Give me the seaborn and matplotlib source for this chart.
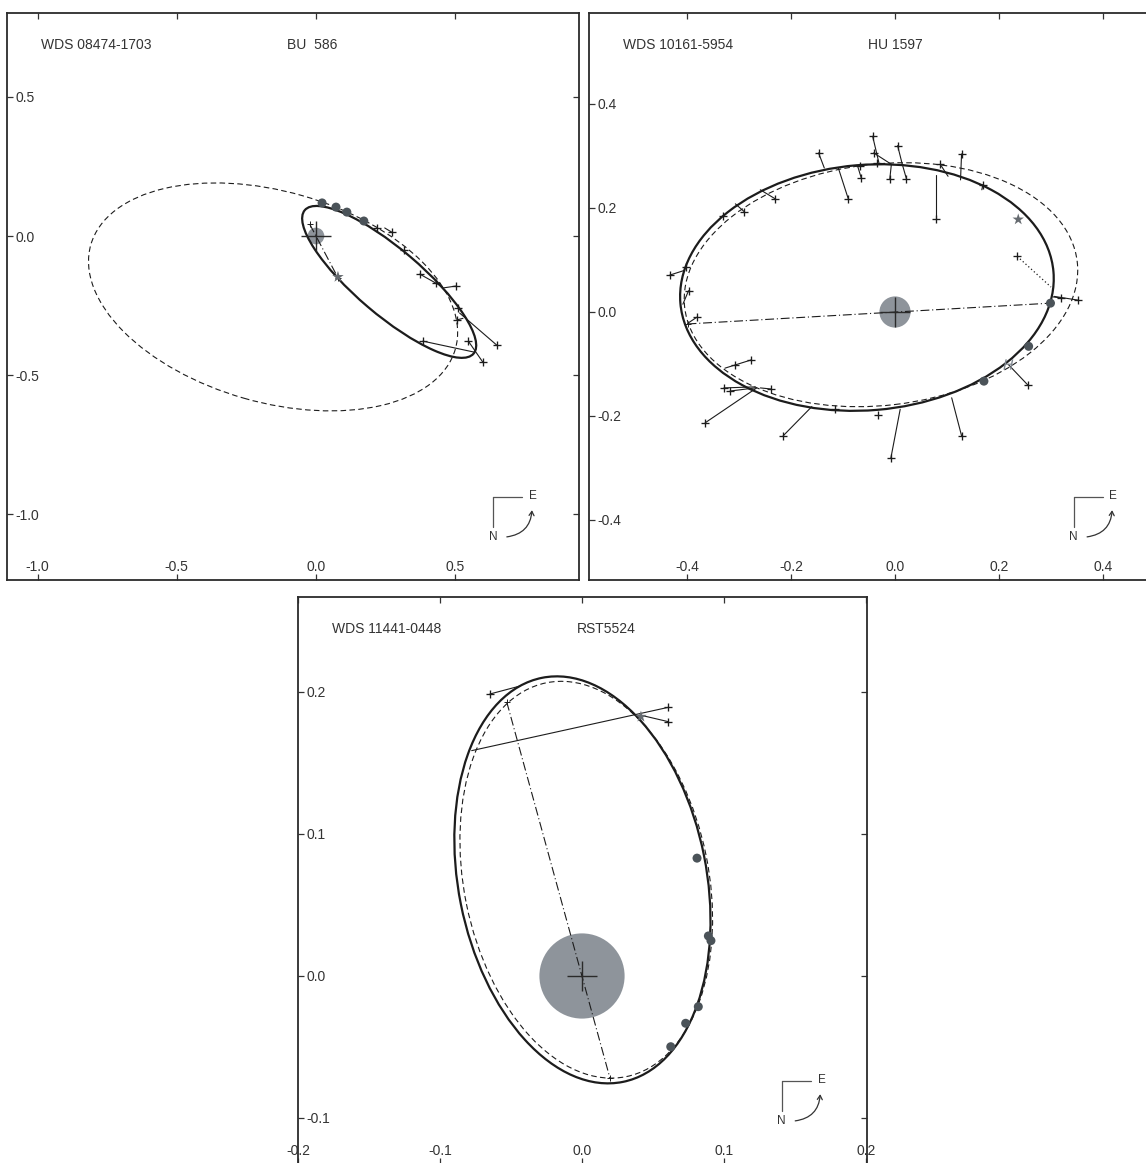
import matplotlib
matplotlib.use("Agg")
import matplotlib.pyplot as plt
from matplotlib.patches import Ellipse, Circle, FancyArrowPatch
import seaborn as sns

# ---------------------------------------------------------------------------
# WDS 08474-1703  (BU 586)
# ---------------------------------------------------------------------------
BU586_OBS_X = [0.219, 0.272, 0.315, 0.373, 0.430, 0.502, 0.509, 0.505, 0.545, 0.649, 0.599, 0.384]
BU586_OBS_Y = [0.029, 0.014, -0.050, -0.137, -0.169, -0.180, -0.259, -0.302, -0.378, -0.392, -0.453, -0.378]
BU586_FIT_X = [0.219, 0.247, 0.315, 0.455, 0.430, 0.455, 0.509, 0.528, 0.545, 0.516, 0.550, 0.566]
BU586_FIT_Y = [0.029, 0.029, -0.050, -0.183, -0.169, -0.187, -0.259, -0.296, -0.378, -0.277, -0.382, -0.417]
BU586_SPECKLE_X = [0.022, 0.072, 0.111, 0.172]
BU586_SPECKLE_Y = [0.119, 0.104, 0.086, 0.054]
BU586_STAR_X = [0.079]
BU586_STAR_Y = [-0.147]
# apparent orbits: centre x, centre y, semi-major, semi-minor, tilt (deg)
BU586_NEW_ORBIT = [0.263, -0.165, 0.398, 0.118, -40.4]
BU586_OLD_ORBIT = [-0.154, -0.219, 0.681, 0.379, -16.0]
BU586_NODES_X = [-0.022, 0.079]
BU586_NODES_Y = [0.042, -0.150]

# ---------------------------------------------------------------------------
# WDS 10161-5954  (HU 1597)
# ---------------------------------------------------------------------------
HU1597_OBS_X = [-0.433, -0.402, -0.397, -0.381, -0.331, -0.290, -0.231, -0.147, -0.090, -0.067,
                -0.065, -0.043, -0.041, -0.034, -0.010, 0.005, 0.022, 0.078, 0.087, 0.128,
                0.169, 0.319, 0.351,
                -0.276, -0.307, -0.329, -0.317, -0.239, -0.365, -0.215, -0.115, -0.033, -0.008,
                0.128, 0.256]
HU1597_OBS_Y = [0.071, 0.087, 0.041, -0.010, 0.185, 0.193, 0.218, 0.306, 0.218, 0.281,
                0.258, 0.338, 0.306, 0.287, 0.256, 0.320, 0.256, 0.179, 0.284, 0.304,
                0.245, 0.027, 0.023,
                -0.092, -0.101, -0.146, -0.152, -0.148, -0.213, -0.238, -0.187, -0.199, -0.281,
                -0.238, -0.141]
HU1597_FIT_X = [-0.405, -0.402, -0.408, -0.399, -0.331, -0.307, -0.259, -0.136, -0.109, -0.067,
                -0.072, -0.031, -0.007, -0.034, -0.007, 0.014, 0.014, 0.078, 0.102, 0.126,
                0.167, 0.304, 0.306,
                -0.327, -0.307, -0.269, -0.269, -0.259, -0.266, -0.160, -0.115, -0.033, 0.010,
                0.109, 0.218]
HU1597_FIT_Y = [0.080, 0.087, 0.015, -0.022, 0.185, 0.208, 0.235, 0.277, 0.277, 0.281,
                0.281, 0.287, 0.284, 0.287, 0.284, 0.284, 0.284, 0.264, 0.261, 0.254,
                0.235, 0.029, 0.030,
                -0.108, -0.101, -0.144, -0.146, -0.146, -0.146, -0.182, -0.187, -0.199, -0.187,
                -0.165, -0.101]
HU1597_REJ_OBS_X = [0.235]
HU1597_REJ_OBS_Y = [0.107]
HU1597_REJ_FIT_X = [0.300]
HU1597_REJ_FIT_Y = [0.048]
HU1597_SPECKLE_X = [0.299, 0.257, 0.171]
HU1597_SPECKLE_Y = [0.017, -0.066, -0.133]
HU1597_STAR_X = [0.237]
HU1597_STAR_Y = [0.178]
HU1597_HIP_X = [0.218]
HU1597_HIP_Y = [-0.101]
HU1597_NEW_ORBIT = [-0.054, 0.047, 0.360, 0.236, 4.8]
HU1597_OLD_ORBIT = [-0.027, 0.0525, 0.380, 0.232, 6.7]
HU1597_NODES_X = [-0.399, 0.299]
HU1597_NODES_Y = [-0.023, 0.017]

# ---------------------------------------------------------------------------
# WDS 11441-0448  (RST5524)
# ---------------------------------------------------------------------------
RST5524_OBS_X = [-0.0648, 0.0608, 0.0608]
RST5524_OBS_Y = [0.1986, 0.1892, 0.1791]
RST5524_FIT_X = [-0.0437, -0.0777, 0.0408]
RST5524_FIT_Y = [0.2042, 0.1587, 0.1838]
RST5524_SPECKLE_X = [0.0810, 0.0890, 0.0908, 0.0819, 0.0730, 0.0625]
RST5524_SPECKLE_Y = [0.0830, 0.0282, 0.0249, -0.0216, -0.0333, -0.0498]
RST5524_STAR_X = [0.0415]
RST5524_STAR_Y = [0.1826]
RST5524_NEW_ORBIT = [0.0003, 0.0677, 0.1451, 0.0873, -78.7]
RST5524_OLD_ORBIT = [0.0030, 0.0678, 0.1415, 0.0861, -78.5]
RST5524_NODES_X = [-0.053, 0.0197]
RST5524_NODES_Y = [0.193, -0.072]

RESOLUTION_RADIUS = 0.03

PANELS = [
    dict(wds="WDS 08474-1703", name="BU  586",
         obs=(BU586_OBS_X, BU586_OBS_Y, BU586_FIT_X, BU586_FIT_Y),
         rej=None,
         speckle=(BU586_SPECKLE_X, BU586_SPECKLE_Y),
         star=(BU586_STAR_X, BU586_STAR_Y), hip=None,
         new=BU586_NEW_ORBIT, old=BU586_OLD_ORBIT,
         nodes=(BU586_NODES_X, BU586_NODES_Y),
         ticks=([-1.0, -0.5, 0.0, 0.5], [-1.0, -0.5, 0.0, 0.5])),
    dict(wds="WDS 10161-5954", name="HU 1597",
         obs=(HU1597_OBS_X, HU1597_OBS_Y, HU1597_FIT_X, HU1597_FIT_Y),
         rej=(HU1597_REJ_OBS_X, HU1597_REJ_OBS_Y, HU1597_REJ_FIT_X, HU1597_REJ_FIT_Y),
         speckle=(HU1597_SPECKLE_X, HU1597_SPECKLE_Y),
         star=(HU1597_STAR_X, HU1597_STAR_Y), hip=(HU1597_HIP_X, HU1597_HIP_Y),
         new=HU1597_NEW_ORBIT, old=HU1597_OLD_ORBIT,
         nodes=(HU1597_NODES_X, HU1597_NODES_Y),
         ticks=([-0.4, -0.2, 0.0, 0.2, 0.4], [-0.4, -0.2, 0.0, 0.2, 0.4])),
    dict(wds="WDS 11441-0448", name="RST5524",
         obs=(RST5524_OBS_X, RST5524_OBS_Y, RST5524_FIT_X, RST5524_FIT_Y),
         rej=None,
         speckle=(RST5524_SPECKLE_X, RST5524_SPECKLE_Y),
         star=(RST5524_STAR_X, RST5524_STAR_Y), hip=None,
         new=RST5524_NEW_ORBIT, old=RST5524_OLD_ORBIT,
         nodes=(RST5524_NODES_X, RST5524_NODES_Y),
         ticks=([-0.2, -0.1, 0.0, 0.1, 0.2], [-0.1, 0.0, 0.1, 0.2])),
]

# frame of each panel in pixels (left, top, right, bottom) and its data limits
FRAMES = [
    ((7, 13, 579, 580), (-1.1097, 0.9448), (-1.237, 0.802)),
    ((589, 13, 1159, 580), (-0.5885, 0.5077), (-0.5154, 0.5750)),
    ((298, 597, 867, 1164), (-0.2000, 0.2007), (-0.1324, 0.2669)),
]

sns.set_style("white")
plt.rcParams["font.family"] = ["Liberation Sans", "DejaVu Sans"]
plt.rcParams["axes.unicode_minus"] = False

W, H = 1146, 1163
fig = plt.figure(figsize=(W / 100, H / 100), dpi=100)

INK = "#1c1c1c"
TEXT = "#333333"
DOT = "#4b5359"
DISK = "#8e949b"


def draw_compass(ax):
    tr = ax.transAxes
    cx, cy = 0.850, 0.146
    ax.plot([cx, cx + 0.051], [cy, cy], color="#555555", lw=0.9, transform=tr, zorder=6)
    ax.plot([cx, cx], [cy, cy - 0.053], color="#555555", lw=0.9, transform=tr, zorder=6)
    ax.text(cx + 0.070, cy + 0.003, "E", transform=tr, ha="center", va="center",
            fontsize=8.5, color=TEXT)
    ax.text(cx, cy - 0.0705, "N", transform=tr, ha="center", va="center",
            fontsize=8.5, color=TEXT)
    arr = FancyArrowPatch((cx + 0.019, cy - 0.0705), (cx + 0.068, cy - 0.018),
                          transform=tr, connectionstyle="arc3,rad=0.45",
                          arrowstyle="->,head_length=3,head_width=1.8",
                          color="#333333", lw=0.9, zorder=6)
    ax.add_patch(arr)


for panel, (rect, xlim, ylim) in zip(PANELS, FRAMES):
    l, t, r, b = rect
    ax = fig.add_axes([l / W, 1 - b / H, (r - l) / W, (b - t) / H])
    ax.set_xlim(*xlim)
    ax.set_ylim(*ylim)

    # resolution disk and primary
    ax.add_patch(Circle((0, 0), RESOLUTION_RADIUS, facecolor=DISK, edgecolor="none", zorder=1))

    # previous (dashed) and new (solid) apparent orbits
    ox, oy, oa, ob, oang = panel["old"]
    ax.add_patch(Ellipse((ox, oy), 2 * oa, 2 * ob, angle=oang, fill=False,
                         ec=INK, lw=0.8, ls=(0, (5, 3)), zorder=2))
    nx, ny, na, nb, nang = panel["new"]
    ax.add_patch(Ellipse((nx, ny), 2 * na, 2 * nb, angle=nang, fill=False,
                         ec=INK, lw=1.6, zorder=3))

    # line of nodes
    lx, ly = panel["nodes"]
    ax.plot(lx, ly, color=INK, lw=0.8, ls=(0, (8, 2.5, 1, 2.5)), zorder=3)
    sns.scatterplot(x=lx, y=ly, marker="+", s=16, color=INK, linewidth=0.7,
                    ax=ax, zorder=4, legend=False)

    # O-C residual lines
    xo, yo, xf, yf = panel["obs"]
    for a, bb, c, d in zip(xo, yo, xf, yf):
        if (a, bb) != (c, d):
            ax.plot([a, c], [bb, d], color=INK, lw=0.8, zorder=3)
    if panel["rej"] is not None:
        rxo, ryo, rxf, ryf = panel["rej"]
        for a, bb, c, d in zip(rxo, ryo, rxf, ryf):
            ax.plot([a, c], [bb, d], color=INK, lw=0.9, ls=(0, (1, 2)), zorder=3)
        sns.scatterplot(x=rxo, y=ryo, marker="+", s=36, color=INK, linewidth=0.95,
                        ax=ax, zorder=5, legend=False)

    # visual measures
    sns.scatterplot(x=xo, y=yo, marker="+", s=36, color=INK, linewidth=0.95,
                    ax=ax, zorder=5, legend=False)
    # speckle measures
    sx, sy = panel["speckle"]
    sns.scatterplot(x=sx, y=sy, marker="o", s=42, color=DOT, edgecolor="none",
                    ax=ax, zorder=5, legend=False)
    # other measures
    stx, sty = panel["star"]
    sns.scatterplot(x=stx, y=sty, marker="*", s=75, color="#666b70", edgecolor="none",
                    ax=ax, zorder=5, legend=False)
    if panel["hip"] is not None:
        hx, hy = panel["hip"]
        sns.scatterplot(x=hx, y=hy, marker="$H$", s=55, color="#7f8790", edgecolor="none",
                        ax=ax, zorder=5, legend=False)

    # primary star
    sns.scatterplot(x=[0.0], y=[0.0], marker="+", s=440, color="#2a2a2a", linewidth=1.0,
                    ax=ax, zorder=6, legend=False)

    # axes styling: inward ticks on every side, labels inside the frame
    xt, yt = panel["ticks"]
    ax.set_xticks(xt)
    ax.set_yticks(yt)
    ax.set_xticklabels([f"{v:.1f}" for v in xt])
    ax.set_yticklabels([f"{v:.1f}" for v in yt])
    ax.tick_params(which="both", direction="in", length=4, width=0.9, colors="#333333",
                   labelsize=10, bottom=True, left=True, top=True, right=True,
                   labeltop=False, labelright=False)
    ax.tick_params(axis="x", pad=-4)
    ax.tick_params(axis="y", pad=-6)
    for lab in ax.get_xticklabels():
        lab.set_verticalalignment("bottom")
    for lab in ax.get_yticklabels():
        lab.set_horizontalalignment("left")
    ax.set_xlabel("")
    ax.set_ylabel("")
    for sp in ax.spines.values():
        sp.set_visible(True)
        sp.set_color("#2b2b2b")
        sp.set_linewidth(1.3)

    ax.text(0.059, 0.944, panel["wds"], transform=ax.transAxes, ha="left", va="center",
            fontsize=10, color=TEXT)
    ax.text(0.490, 0.944, panel["name"], transform=ax.transAxes, ha="left", va="center",
            fontsize=10, color=TEXT)
    draw_compass(ax)

fig.savefig("out.png", dpi=100)
